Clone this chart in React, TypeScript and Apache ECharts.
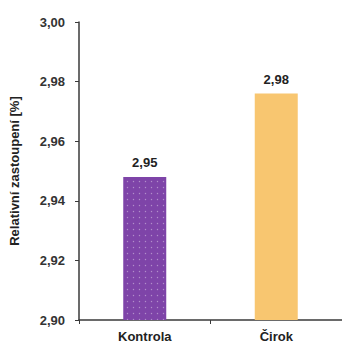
import React, { useEffect, useRef } from "react";
import * as echarts from "echarts";

const categories = ["Kontrola", "Čirok"];
const values = [2.948, 2.976];
const valueLabels = ["2,95", "2,98"];
const barColors = ["#7E44A8", "#F8C670"];
const yMin = 2.9;
const yMax = 3.0;
const yInterval = 0.02;
const yAxisName = "Relativní zastoupení [%]";

export default function App() {
  const ref = useRef<HTMLDivElement>(null);
  useEffect(() => {
    if (!ref.current) return;
    const chart = echarts.init(ref.current, null, { renderer: "svg" });
    const font = "'Liberation Sans', Arial, sans-serif";
    chart.setOption({
      animation: false,
      backgroundColor: "#ffffff",
      grid: { left: 77, top: 22, bottom: 25, right: -7, containLabel: false },
      xAxis: {
        type: "category",
        data: categories,
        axisLine: { lineStyle: { color: "#3a3a3a", width: 1.5 } },
        axisTick: { show: true, length: 4, lineStyle: { color: "#3a3a3a" } },
        axisLabel: {
          margin: 10,
          color: "#222",
          fontWeight: "bold",
          fontSize: 13,
          fontFamily: font,
        },
      },
      yAxis: {
        type: "value",
        min: yMin,
        max: yMax,
        interval: yInterval,
        name: yAxisName,
        nameLocation: "middle",
        nameGap: 58,
        nameTextStyle: { color: "#222", fontWeight: "bold", fontSize: 13, fontFamily: font },
        axisLine: { show: true, lineStyle: { color: "#3a3a3a", width: 1.5 } },
        axisTick: { show: true, length: 4, lineStyle: { color: "#3a3a3a" } },
        splitLine: { show: false },
        axisLabel: {
          margin: 14,
          color: "#333",
          fontWeight: "bold",
          fontSize: 13,
          fontFamily: font,
          formatter: (v: number) => v.toFixed(2).replace(".", ","),
        },
      },
      series: [
        {
          type: "bar",
          barWidth: 43,
          data: values.map((v, i) => ({
            value: v,
            itemStyle: {
              color: barColors[i],
              decal:
                i === 0
                  ? {
                      symbol: "circle",
                      symbolSize: 0.45,
                      dashArrayX: [[3, 3]],
                      dashArrayY: [3, 3],
                      color: "rgba(255,255,255,0.4)",
                      rotation: 0,
                    }
                  : { symbol: "none" },
            },
            label: {
              show: true,
              position: "top",
              distance: 8,
              formatter: valueLabels[i],
              color: "#222",
              fontWeight: "bold",
              fontSize: 13,
              fontFamily: font,
            },
          })),
        },
      ],
    });
    return () => chart.dispose();
  }, []);
  return (
    <div
      ref={ref}
      style={{ position: "fixed", left: 0, top: 0, width: 342, height: 345 }}
    />
  );
}
